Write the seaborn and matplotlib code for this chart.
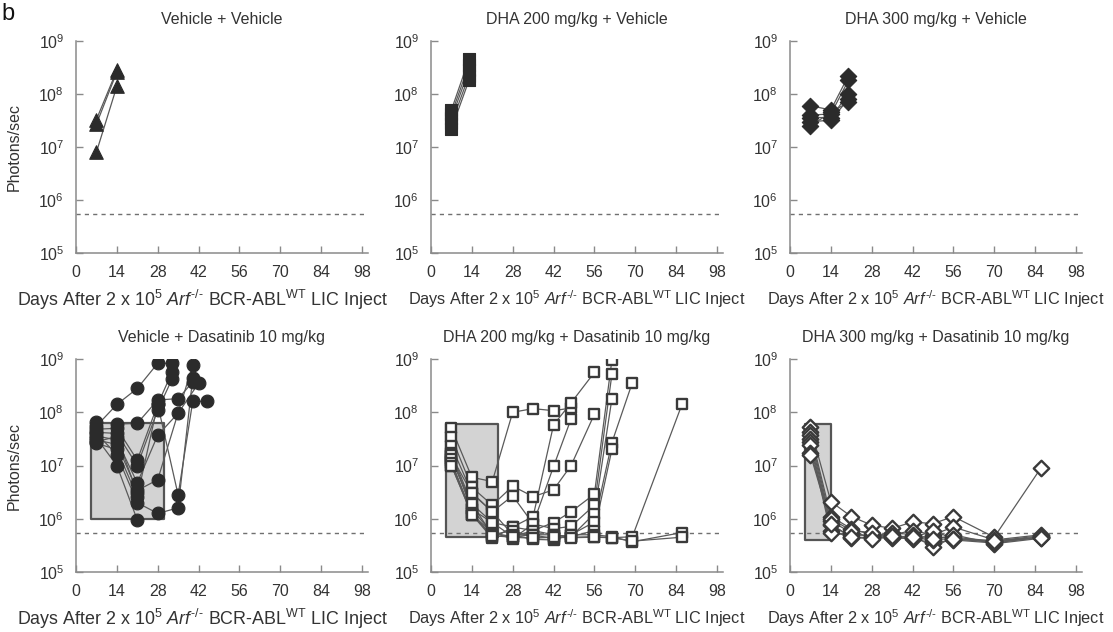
import numpy as np
import pandas as pd
import matplotlib
matplotlib.use("Agg")
import matplotlib.pyplot as plt
import seaborn as sns
from matplotlib.ticker import LogLocator, NullLocator

nan = np.nan

# ---------------- data ----------------
x_ticks = [0, 14, 28, 42, 56, 70, 84, 98]
detection_limit = 5.5e5

# Panel 1: Vehicle + Vehicle
vv_days = [7, 14]
vv_mouse1 = [3.3e7, 2.8e8]
vv_mouse2 = [2.7e7, 2.6e8]
vv_mouse3 = [8.0e6, 1.4e8]

# Panel 2: DHA 200 + Vehicle
d200v_days = [7, 13]
d200v_mouse1 = [5.0e7, 4.5e8]
d200v_mouse2 = [4.2e7, 3.5e8]
d200v_mouse3 = [3.5e7, 2.8e8]
d200v_mouse4 = [2.8e7, 2.2e8]
d200v_mouse5 = [2.2e7, 1.8e8]

# Panel 3: DHA 300 + Vehicle
d300v_days = [7, 14, 20]
d300v_mouse1 = [6.0e7, 5.0e7, 2.2e8]
d300v_mouse2 = [4.0e7, 4.2e7, 1.8e8]
d300v_mouse3 = [3.6e7, 3.6e7, 1.0e8]
d300v_mouse4 = [3.0e7, 3.2e7, 8.0e7]
d300v_mouse5 = [2.5e7, 4.5e7, 7.0e7]

# Panel 4: Vehicle + Dasatinib
vd_days = [7, 14, 21, 28, 33, 35, 40, 42, 45]
vd_mouse1 = [5.5e7, 1.4e8, 2.8e8, 8.3e8, 8.3e8, nan, nan, nan, nan]
vd_mouse2 = [6.5e7, 6.0e7, 6.2e7, 1.7e8, nan, 1.8e8, 3.7e8, nan, nan]
vd_mouse3 = [4.8e7, 5.0e7, 1.26e7, 1.4e8, 5.8e8, nan, nan, nan, nan]
vd_mouse4 = [4.2e7, 4.0e7, 1.0e7, 1.1e8, 4.3e8, nan, nan, nan, nan]
vd_mouse5 = [3.6e7, 3.0e7, 4.7e6, 3.7e7, nan, 9.6e7, nan, 3.5e8, nan]
vd_mouse6 = [3.0e7, 2.5e7, 3.4e6, 5.4e6, nan, nan, 7.7e8, nan, nan]
vd_mouse7 = [2.6e7, 2.0e7, 2.6e6, 1.4e8, nan, 2.8e6, 1.6e8, nan, 1.6e8]
vd_mouse8 = [4.0e7, 1.6e7, 2.0e6, 1.26e6, nan, 1.6e6, 4.4e8, nan, nan]
vd_mouse9 = [3.3e7, 1.0e7, 9.5e5, nan, nan, nan, nan, nan, nan]
vd_mouse10 = [2.8e7, 3.5e7, 3.0e6, nan, nan, nan, nan, nan, nan]

# Panel 5: DHA 200 + Dasatinib
d200d_days = [7, 14, 21, 28, 35, 42, 48, 56, 62, 69, 86]
d200d_mouse1 = [5.0e7, 6.0e6, 5.0e6, 1.0e8, 1.17e8, 1.07e8, 1.2e8, nan, nan, nan, nan]
d200d_mouse2 = [3.4e7, 3.9e6, 1.8e6, 4.1e6, 2.6e6, 3.5e6, 1.0e7, 9.2e7, nan, nan, nan]
d200d_mouse3 = [2.3e7, 3.1e6, 1.35e6, 2.7e6, 8.0e5, 9.6e6, 7.5e7, nan, nan, nan, nan]
d200d_mouse4 = [1.7e7, 1.9e6, 8.5e5, 7.0e5, 1.1e6, 5.8e7, 1.5e8, 5.6e8, nan, nan, nan]
d200d_mouse5 = [1.5e7, 1.5e6, 5.4e5, 4.6e5, 6.0e5, 8.5e5, 1.35e6, 2.9e6, 9.6e8, nan, nan]
d200d_mouse6 = [1.2e7, 1.2e6, 5.5e5, 4.2e5, 8.0e5, 6.5e5, 7.2e5, 1.8e6, 5.2e8, nan, nan]
d200d_mouse7 = [1.0e7, 1.2e6, 4.3e5, 7.0e5, 6.0e5, 5.0e5, 4.6e5, 1.25e6, 1.8e8, nan, nan]
d200d_mouse8 = [1.5e7, 3.0e6, 1.35e6, 5.0e5, 4.1e5, 4.0e5, 5.0e5, 8.7e5, 2.7e7, 3.6e8, nan]
d200d_mouse9 = [1.6e7, 1.5e6, 8.5e5, 4.6e5, 5.0e5, 5.0e5, 4.6e5, 6.0e5, 2.0e7, nan, nan]
d200d_mouse10 = [1.3e7, 1.9e6, 5.0e5, 6.0e5, 4.5e5, 4.5e5, 4.5e5, 4.6e5, 4.4e5, 4.6e5, 1.4e8]
d200d_mouse11 = [1.1e7, 1.3e6, 4.5e5, 5.0e5, 5.0e5, 4.2e5, 5.0e5, 5.0e5, 4.6e5, 3.7e5, 5.5e5]
d200d_mouse12 = [1.0e7, 1.2e6, 4.8e5, 4.5e5, 4.3e5, 4.5e5, 4.4e5, 4.5e5, 4.4e5, 3.8e5, 4.5e5]

# Panel 6: DHA 300 + Dasatinib
d300d_days = [7, 14, 21, 28, 35, 42, 49, 56, 70, 86]
d300d_mouse1 = [5.2e7, 2.1e6, 1.1e6, 7.6e5, 6.6e5, 8.7e5, 8.1e5, 1.1e6, 4.5e5, 9.0e6]
d300d_mouse2 = [4.2e7, 1.1e6, 6.5e5, 5.0e5, 5.0e5, 6.0e5, 5.0e5, 7.0e5, 4.0e5, 5.0e5]
d300d_mouse3 = [3.7e7, 9.0e5, 5.5e5, 4.6e5, 4.6e5, 4.6e5, 4.6e5, 4.3e5, 3.7e5, 4.5e5]
d300d_mouse4 = [3.2e7, 7.6e5, 4.6e5, 4.3e5, 4.4e5, 4.2e5, 3.5e5, 4.0e5, 3.5e5, 4.5e5]
d300d_mouse5 = [2.8e7, 6.0e5, 4.4e5, 4.5e5, 5.5e5, 5.0e5, 2.9e5, 4.5e5, 3.8e5, 4.8e5]
d300d_mouse6 = [2.4e7, 5.4e5, 5.0e5, 4.8e5, 4.8e5, 4.4e5, 4.0e5, 5.0e5, 3.4e5, 4.3e5]
d300d_mouse7 = [1.7e7, 1.0e6, 6.0e5, 5.5e5, 4.5e5, 4.3e5, 6.0e5, 4.2e5, 3.6e5, 4.6e5]
d300d_mouse8 = [1.6e7, 8.0e5, 4.5e5, 4.2e5, 4.7e5, 4.6e5, 4.2e5, 4.1e5, 3.9e5, 4.4e5]

# treatment windows (start day, end day, low, high)
vd_window = [5, 30, 1.0e6, 6.2e7]
d200d_window = [5, 23, 4.5e5, 6.0e7]
d300d_window = [5, 14, 4.0e5, 6.0e7]

titles = ["Vehicle + Vehicle", "DHA 200 mg/kg + Vehicle", "DHA 300 mg/kg + Vehicle",
          "Vehicle + Dasatinib 10 mg/kg", "DHA 200 mg/kg + Dasatinib 10 mg/kg",
          "DHA 300 mg/kg + Dasatinib 10 mg/kg"]

panels = [
    dict(days=vv_days, mice=[vv_mouse1, vv_mouse2, vv_mouse3], marker="^", filled=True, s=95, window=None),
    dict(days=d200v_days, mice=[d200v_mouse1, d200v_mouse2, d200v_mouse3, d200v_mouse4, d200v_mouse5],
         marker="s", filled=True, s=85, window=None),
    dict(days=d300v_days, mice=[d300v_mouse1, d300v_mouse2, d300v_mouse3, d300v_mouse4, d300v_mouse5],
         marker="D", filled=True, s=70, window=None),
    dict(days=vd_days, mice=[vd_mouse1, vd_mouse2, vd_mouse3, vd_mouse4, vd_mouse5, vd_mouse6,
                              vd_mouse7, vd_mouse8, vd_mouse9, vd_mouse10],
         marker="o", filled=True, s=85, window=vd_window),
    dict(days=d200d_days, mice=[d200d_mouse1, d200d_mouse2, d200d_mouse3, d200d_mouse4, d200d_mouse5,
                                 d200d_mouse6, d200d_mouse7, d200d_mouse8, d200d_mouse9, d200d_mouse10,
                                 d200d_mouse11, d200d_mouse12],
         marker="s", filled=False, s=55, window=d200d_window),
    dict(days=d300d_days, mice=[d300d_mouse1, d300d_mouse2, d300d_mouse3, d300d_mouse4, d300d_mouse5,
                                 d300d_mouse6, d300d_mouse7, d300d_mouse8],
         marker="D", filled=False, s=62, window=d300d_window),
]

# ---------------- style ----------------
sns.set_theme(style="white")
plt.rcParams["font.family"] = ["Liberation Sans", "DejaVu Sans"]
plt.rcParams["mathtext.fontset"] = "custom"
plt.rcParams["mathtext.rm"] = "Liberation Sans"
plt.rcParams["mathtext.it"] = "Liberation Sans:italic"
plt.rcParams["mathtext.bf"] = "Liberation Sans:bold"
plt.rcParams["mathtext.default"] = "regular"

FS = 11.5
TXT = "#333333"
SPINE = "#8a8a8a"
MARK = "#2b2b2b"

fig = plt.figure(figsize=(11.13, 6.32), dpi=100)
W, H = 1113, 632
lefts = [76, 431, 790]
ax_w = 291.8
rows_px = [(41, 253), (359, 572)]

xlabel = "Days After 2 x 10$^{5}$ $\\it{Arf}^{\u2010/\u2010}$ BCR-ABL$^{\\rm{WT}}$ LIC Inject"

for i, p in enumerate(panels):
    r, c = divmod(i, 3)
    top, bot = rows_px[r]
    ax = fig.add_axes([lefts[c] / W, 1 - bot / H, ax_w / W, (bot - top) / H])
    ax.set_yscale("log")

    rows = []
    for m, vals in enumerate(p["mice"]):
        for d, v in zip(p["days"], vals):
            if not np.isnan(v):
                rows.append((m, d, v))
    df = pd.DataFrame(rows, columns=["mouse", "day", "photons"])

    if p["window"] is not None:
        x0, x1, lo, hi = p["window"]
        ax.fill_between([x0, x1], [lo, lo], [hi, hi], facecolor="#d3d3d3",
                        edgecolor="#555555", linewidth=1.6, zorder=1)

    ax.axhline(detection_limit, color="#707070", lw=1.0, ls=(0, (3, 3)), zorder=1.5)

    sns.lineplot(data=df, x="day", y="photons", units="mouse", estimator=None,
                 color="#5a5a5a", lw=0.9, ax=ax, zorder=2, legend=False)
    if p["filled"]:
        sns.scatterplot(data=df, x="day", y="photons", marker=p["marker"], s=p["s"],
                        color=MARK, edgecolor=MARK, linewidth=0.8, ax=ax, zorder=3, legend=False)
    else:
        sns.scatterplot(data=df, x="day", y="photons", marker=p["marker"], s=p["s"],
                        facecolor="white", edgecolor="#3a3a3a", linewidth=1.7, ax=ax,
                        zorder=3, legend=False)

    ax.set_xlim(0, 100)
    ax.set_ylim(1e5, 1e9)
    ax.set_xticks(x_ticks)
    ax.yaxis.set_major_locator(LogLocator(base=10, numticks=10))
    ax.yaxis.set_minor_locator(NullLocator())
    ax.tick_params(which="major", bottom=True, left=True, direction="in", length=5, width=1,
                   color=SPINE, labelsize=FS, labelcolor=TXT, pad=8.5)
    for s in ["top", "right"]:
        ax.spines[s].set_visible(False)
    for s in ["left", "bottom"]:
        ax.spines[s].set_color(SPINE)
        ax.spines[s].set_linewidth(1.1)
    ax.set_title(titles[i], fontsize=FS, color=TXT, pad=12)
    if c == 0:
        ax.set_xlabel(xlabel, fontsize=12.9, color=TXT, labelpad=8)
        ax.xaxis.set_label_coords((202.5 - lefts[0]) / ax_w, -0.165)
        ax.set_ylabel("Photons/sec", fontsize=FS, color=TXT, labelpad=12)
    else:
        ax.set_xlabel(xlabel, fontsize=11.7, color=TXT, labelpad=8)
        ax.xaxis.set_label_coords(0.5, -0.165)
        ax.set_ylabel("")

fig.text(0.001, 0.995, "b", fontsize=17, color="#111111", va="top", ha="left")

fig.savefig("out.png", dpi=100)
